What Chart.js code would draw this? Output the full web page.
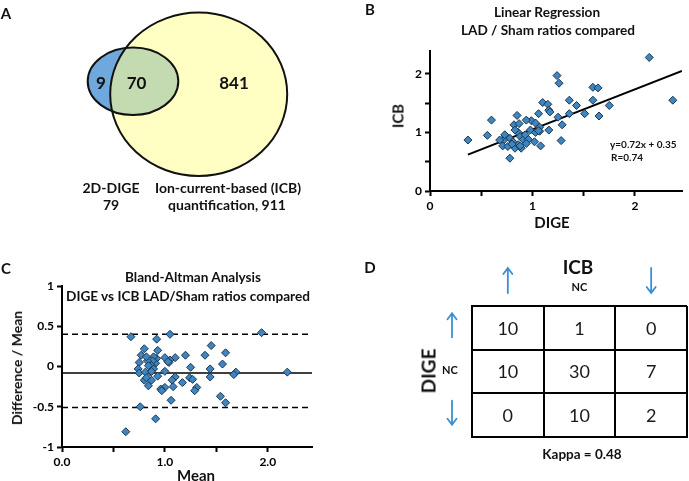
<!DOCTYPE html>
<html>
<head>
<meta charset="utf-8">
<script src="https://cdn.jsdelivr.net/npm/chart.js@4.4.1/dist/chart.umd.min.js"></script>
<style>
  body { margin: 0; background: #fff; }
  #fig { position: relative; width: 689px; height: 481px; overflow: hidden; font-family: Lato, sans-serif; color: #111; }
  canvas { position: absolute; }
  .t { position: absolute; transform: translate(-50%, -50%); white-space: nowrap; font-weight: bold; line-height: 1; }
  .l { position: absolute; transform: translateY(-50%); white-space: nowrap; font-weight: bold; line-height: 1; }
  .rot { transform: translate(-50%, -50%) rotate(-90deg); }
</style>
</head>
<body>
<div id="fig">
  <canvas id="venn" width="340" height="240" style="left:0;top:0"></canvas>
  <canvas id="regression" width="349" height="240" style="left:340px;top:0"></canvas>
  <canvas id="blandAltman" width="340" height="241" style="left:0;top:240px"></canvas>
  <canvas id="agreement" width="349" height="241" style="left:340px;top:240px"></canvas>

  <!-- panel letters -->
  <div class="t" style="left:6px;top:13px;font-size:15px">A</div>
  <div class="t" style="left:370px;top:9px;font-size:15px">B</div>
  <div class="t" style="left:6px;top:268px;font-size:15px">C</div>
  <div class="t" style="left:370px;top:267px;font-size:15px">D</div>

  <!-- A -->
  <div class="t" style="left:111px;top:188px;font-size:14px">2D-DIGE</div>
  <div class="t" style="left:111px;top:205px;font-size:14px" id="digeTotal"></div>
  <div class="t" style="left:228px;top:188px;font-size:14px">Ion-current-based (ICB)</div>
  <div class="t" style="left:227px;top:205px;font-size:14px" id="icbTotal"></div>

  <!-- B -->
  <div class="t" style="left:547px;top:13px;font-size:13.6px">Linear Regression</div>
  <div class="t" style="left:548px;top:31px;font-size:13.6px">LAD / Sham ratios compared</div>
  <div class="t rot" style="left:398px;top:116px;font-size:15px">ICB</div>
  <div class="t" style="left:552px;top:222px;font-size:15px">DIGE</div>
  <div class="l" style="left:610px;top:144px;font-size:10px">y=0.72x + 0.35</div>
  <div class="l" style="left:611px;top:157px;font-size:10px">R=0.74</div>

  <!-- C -->
  <div class="t" style="left:193px;top:278px;font-size:13.6px">Bland-Altman Analysis</div>
  <div class="t" style="left:188px;top:297px;font-size:13.6px">DIGE vs ICB LAD/Sham ratios compared</div>
  <div class="t rot" style="left:17px;top:368px;font-size:14px">Difference / Mean</div>
  <div class="t" style="left:196px;top:475px;font-size:15px">Mean</div>

  <!-- D -->
  <div class="t" style="left:578px;top:266px;font-size:19px">ICB</div>
  <div class="t rot" style="left:428px;top:371px;font-size:19px">DIGE</div>
  <div class="t" style="left:582px;top:455px;font-size:13.5px" id="kappa"></div>
</div>

<script>
// A: Venn counts
const vennTotals = [79, 911];          // 2D-DIGE, ICB
const vennParts = [9, 70, 841];        // DIGE only, both, ICB only

// B: linear regression, LAD / Sham ratios
const regDige = [0.37, 0.56, 0.60, 2.14, 2.37, 1.24, 1.26, 1.59, 1.64, 1.59, 1.36, 1.43, 1.75, 1.51, 1.65,
  1.36, 1.25, 1.29, 1.28, 1.10, 1.15, 1.16, 1.17, 1.16, 1.06, 0.99, 0.94, 1.03, 1.07, 0.98, 1.03, 1.07,
  1.02, 1.08, 0.85, 0.82, 0.87, 0.86, 0.88, 0.91, 0.96, 0.94, 0.89, 0.78, 0.74, 0.72, 0.78, 0.81, 0.71,
  0.76, 0.83, 0.73, 0.86, 0.93, 0.68, 0.83, 0.80, 0.88, 1.06];
const regIcb = [0.87, 0.95, 1.21, 2.28, 1.55, 1.97, 1.84, 1.77, 1.76, 1.55, 1.55, 1.46, 1.46, 1.32, 1.28,
  1.32, 1.26, 1.13, 0.86, 1.51, 1.48, 1.38, 1.35, 1.04, 1.32, 1.20, 1.21, 1.16, 1.09, 1.04, 1.00, 1.02,
  0.84, 0.77, 1.29, 1.13, 1.15, 1.00, 0.93, 0.88, 0.88, 0.81, 0.73, 0.56, 0.93, 0.87, 0.90, 0.84, 0.77,
  0.76, 0.73, 0.96, 0.79, 0.96, 0.87, 1.04, 0.80, 0.77, 1.03];
const fitX = [0.37, 2.46];
const fitY = [0.62, 2.05];

// C: Bland-Altman
const baMean = [0.62, 0.67, 1.05, 1.94, 0.92, 2.19, 0.76, 0.91, 1.06, 1.54, 1.59, 1.45, 1.59, 1.39, 1.20,
  1.56, 1.44, 1.44, 1.69, 1.67, 1.25, 1.24, 1.27, 1.17, 1.31, 1.29, 1.10, 1.00, 1.05, 1.04, 1.03, 1.00,
  1.10, 1.07, 1.08, 1.00, 0.96, 0.97, 0.93, 0.93, 0.92, 0.91, 0.89, 0.88, 0.87, 0.89, 0.86, 0.80, 0.77,
  0.75, 0.74, 0.75, 0.81, 0.83, 0.84, 0.80, 0.84, 0.87, 0.82, 0.87, 0.82];
const baDiff = [-0.81, 0.37, 0.40, 0.42, 0.34, -0.07, -0.50, -0.65, -0.42, -0.37, -0.45, 0.26, 0.17, 0.14,
  0.14, 0.03, -0.03, -0.13, -0.07, -0.10, -0.01, -0.14, -0.16, -0.20, -0.26, -0.30, 0.11, 0.11, 0.08,
  0.05, 0.06, -0.06, -0.13, -0.17, -0.25, -0.26, -0.28, -0.30, -0.12, 0.20, 0.10, 0.04, 0.12, 0.07,
  0.01, -0.03, -0.07, 0.22, 0.14, 0.05, -0.03, -0.08, -0.07, 0.07, 0.01, -0.17, -0.24, -0.17, -0.14,
  -0.06, 0.12];
const baBias = -0.08;
const baUpper = 0.40;
const baLower = -0.51;

// D: agreement table (rows DIGE, columns ICB)
const icbCats = ['up', 'NC', 'down'];
const digeCats = ['up', 'NC', 'down'];
const agreement = [
  [10, 1, 0],
  [10, 30, 7],
  [0, 10, 2]
];
const kappa = 0.48;

Chart.defaults.font.family = 'Lato';
Chart.defaults.color = '#000';

document.getElementById('digeTotal').textContent = vennTotals[0];
document.getElementById('icbTotal').textContent = 'quantification, ' + vennTotals[1];
document.getElementById('kappa').textContent = 'Kappa = ' + kappa;

const pts = (xs, ys) => xs.map((v, i) => ({ x: v, y: ys[i] }));
const hLine = (y, x0, x1) => [{ x: x0, y: y }, { x: x1, y: y }];

function axis(opts) {
  return {
    type: 'linear',
    min: opts.min,
    max: opts.max,
    afterBuildTicks: s => { s.ticks = opts.ticks.map(v => ({ value: v })); },
    afterFit: opts.fit,
    ticks: { callback: opts.label, font: { weight: 'bold', size: 12 }, color: '#000', padding: 3, autoSkip: false, maxRotation: 0 },
    grid: { drawOnChartArea: false, drawTicks: true, tickLength: 5, tickColor: '#000', tickWidth: 2 },
    border: { display: true, color: '#000', width: 2 }
  };
}

// ---- A: Venn diagram ----
const vennPlugin = {
  id: 'venn',
  afterDraw(chart) {
    const { ctx, scales: { x, y } } = chart;
    const px = v => x.getPixelForValue(v), py = v => y.getPixelForValue(v);
    const big = { cx: 198.7, cy: 94.3, rx: 88.5, ry: 81.7 };
    const small = { cx: 133, cy: 81.3, rx: 45.3, ry: 33.7 };
    const path = e => {
      ctx.beginPath();
      ctx.ellipse(px(e.cx), py(e.cy), px(e.cx + e.rx) - px(e.cx), py(e.cy + e.ry) - py(e.cy), 0, 0, Math.PI * 2);
    };
    ctx.save();
    path(small); ctx.fillStyle = '#6fa8dc'; ctx.fill();
    path(big); ctx.fillStyle = '#ffffc4'; ctx.fill();
    ctx.save(); path(big); ctx.clip(); path(small); ctx.fillStyle = '#c4dbb2'; ctx.fill(); ctx.restore();
    ctx.lineWidth = 2; ctx.strokeStyle = '#111';
    path(big); ctx.stroke();
    path(small); ctx.stroke();
    const spots = [[101, 83], [136.5, 83], [234, 83]];
    ctx.fillStyle = '#111';
    ctx.font = 'bold 17px Lato';
    ctx.textAlign = 'center'; ctx.textBaseline = 'middle';
    vennParts.forEach((n, i) => ctx.fillText(String(n), px(spots[i][0]), py(spots[i][1]) + 1));
    ctx.restore();
  }
};

new Chart(document.getElementById('venn'), {
  type: 'scatter',
  data: { datasets: [] },
  options: {
    responsive: false, animation: false,
    layout: { padding: 0 },
    plugins: { legend: { display: false }, tooltip: { enabled: false } },
    scales: {
      x: { type: 'linear', min: 0, max: 340, display: false },
      y: { type: 'linear', min: 0, max: 240, reverse: true, display: false }
    }
  },
  plugins: [vennPlugin]
});

// ---- B: linear regression ----
new Chart(document.getElementById('regression'), {
  type: 'scatter',
  data: {
    datasets: [
      { data: pts(regDige, regIcb), pointStyle: 'rectRot', pointRadius: 4, backgroundColor: '#3f86c1', borderColor: '#1b3550', borderWidth: 1 },
      { data: pts(fitX, fitY), showLine: true, pointRadius: 0, borderColor: '#000', borderWidth: 2 }
    ]
  },
  options: {
    responsive: false, animation: false,
    layout: { padding: { top: 51, right: 7, left: 0, bottom: 0 } },
    plugins: { legend: { display: false }, tooltip: { enabled: false } },
    scales: {
      x: axis({ min: 0, max: 2.46, ticks: [0, 0.5, 1, 1.5, 2], fit: s => { s.height = 49; }, label: v => Number.isInteger(v) ? v : '' }),
      y: axis({ min: 0, max: 2.39, ticks: [0, 0.5, 1, 1.5, 2], fit: s => { s.width = 90; }, label: v => Number.isInteger(v) ? v : '' })
    }
  }
});

// ---- C: Bland-Altman ----
new Chart(document.getElementById('blandAltman'), {
  type: 'scatter',
  data: {
    datasets: [
      { data: pts(baMean, baDiff), pointStyle: 'rectRot', pointRadius: 4, backgroundColor: '#3f86c1', borderColor: '#1b3550', borderWidth: 1 },
      { data: hLine(baBias, 0, 2.43), showLine: true, pointRadius: 0, borderColor: '#000', borderWidth: 1.5 },
      { data: hLine(baUpper, 0, 2.43), showLine: true, pointRadius: 0, borderColor: '#000', borderWidth: 1.5, borderDash: [6, 4] },
      { data: hLine(baLower, 0, 2.43), showLine: true, pointRadius: 0, borderColor: '#000', borderWidth: 1.5, borderDash: [6, 4] }
    ]
  },
  options: {
    responsive: false, animation: false,
    layout: { padding: { top: 46, right: 28, left: 0, bottom: 0 } },
    plugins: { legend: { display: false }, tooltip: { enabled: false } },
    scales: {
      x: axis({ min: 0, max: 2.43, ticks: [0, 0.5, 1, 1.5, 2], fit: s => { s.height = 34; }, label: v => Number.isInteger(v) ? v.toFixed(1) : '' }),
      y: axis({ min: -1, max: 1, ticks: [-1, -0.5, 0, 0.5, 1], fit: s => { s.width = 62; }, label: v => String(v) })
    }
  }
});

// ---- D: agreement table ----
function arrow(ctx, x, y0, y1, up) {
  const tip = up ? y0 : y1;
  const dir = up ? 1 : -1;
  ctx.beginPath();
  ctx.moveTo(x, y0); ctx.lineTo(x, y1);
  ctx.moveTo(x - 4.5, tip + dir * 6); ctx.lineTo(x, tip); ctx.lineTo(x + 4.5, tip + dir * 6);
  ctx.stroke();
}

const tablePlugin = {
  id: 'tableText',
  afterDraw(chart) {
    const { ctx, chartArea: a, scales: { x, y } } = chart;
    ctx.save();
    ctx.textAlign = 'center'; ctx.textBaseline = 'middle';
    ctx.fillStyle = '#1a1a1a';
    ctx.font = '18px Lato';
    agreement.forEach((row, r) => row.forEach((v, c) => {
      ctx.fillText(String(v), x.getPixelForValue(c + 0.5), y.getPixelForValue(r + 0.5) + 1);
    }));
    ctx.strokeStyle = '#3a8fd0'; ctx.lineWidth = 1.8; ctx.lineCap = 'round';
    ctx.font = 'bold 11px Lato'; ctx.fillStyle = '#111';
    icbCats.forEach((cat, c) => {
      const cx = x.getPixelForValue(c + 0.5);
      if (cat === 'NC') ctx.fillText('NC', cx, a.top - 19);
      else arrow(ctx, cx, a.top - 38, a.top - 13, cat === 'up');
    });
    digeCats.forEach((cat, r) => {
      const cy = y.getPixelForValue(r + 0.5);
      if (cat === 'NC') ctx.fillText('NC', a.left - 22, cy - 1);
      else arrow(ctx, a.left - 20, cy - 14.5, cy + 9.5, cat === 'up');
    });
    ctx.restore();
  }
};

new Chart(document.getElementById('agreement'), {
  type: 'scatter',
  data: { datasets: [] },
  options: {
    responsive: false, animation: false,
    layout: { padding: { top: 66, left: 132, right: 2, bottom: 44 } },
    plugins: { legend: { display: false }, tooltip: { enabled: false } },
    scales: {
      x: {
        type: 'linear', min: 0, max: 3, afterFit: s => { s.height = 0; },
        ticks: { stepSize: 1, display: false },
        grid: { color: '#000', lineWidth: 2, drawTicks: false },
        border: { display: true, color: '#000', width: 2 }
      },
      y: {
        type: 'linear', min: 0, max: 3, reverse: true, afterFit: s => { s.width = 0; },
        ticks: { stepSize: 1, display: false },
        grid: { color: '#000', lineWidth: 2, drawTicks: false },
        border: { display: true, color: '#000', width: 2 }
      }
    }
  },
  plugins: [tablePlugin]
});
</script>
</body>
</html>
